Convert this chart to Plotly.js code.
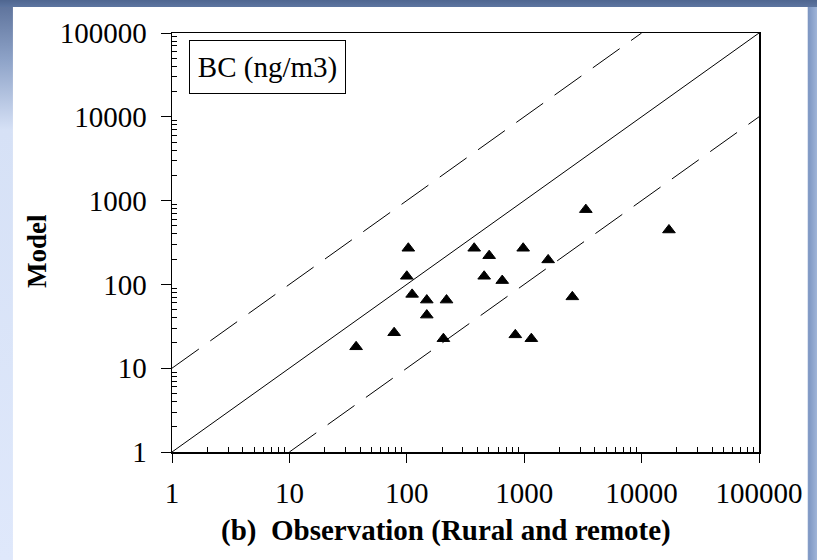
<!DOCTYPE html>
<html>
<head>
<meta charset="utf-8">
<script src="https://cdn.plot.ly/plotly-3.0.1.min.js"></script>
<style>
  html, body { margin: 0; padding: 0; }
  body {
    width: 817px; height: 560px; overflow: hidden;
    background:
      linear-gradient(to bottom, #4f6690 0px, #5d75a0 7px, rgba(0,0,0,0) 7px),
      linear-gradient(to right, rgba(0,0,0,0) 800px, #7f98c4 809px, #9fb4d8 817px),
      linear-gradient(to bottom, #5a6f98 0px, #8ea3c8 60px, #d6e1f6 130px, #dfe8fb 560px);
  }
  #chart { width: 817px; height: 560px; }
</style>
</head>
<body>
<div id="chart"></div>
<script>
// Black carbon: observed vs modelled concentrations at rural and remote sites (ng/m3)
const observed = [37, 78, 103, 100, 111, 148, 218, 148, 205, 375, 503, 980, 456, 650, 840, 1150, 1600, 2570, 3350, 17100];
const modelled = [18, 26.5, 270, 125, 76, 65, 65, 43, 22.5, 270, 220, 270, 125, 111, 25, 22.5, 196, 71, 780, 446];

// Reference lines: 1:1 and a factor of 10 either side
const oneToOneX = [1, 100000];
const oneToOneY = [1, 100000];
const factorAboveX = [1, 10000];
const factorAboveY = [10, 100000];
const factorBelowX = [10, 100000];
const factorBelowY = [1, 10000];

const decadeTicks = [1, 10, 100, 1000, 10000, 100000];
const decadeLabels = ['1', '10', '100', '1000', '10000', '100000'];

const minorTicks = [];
for (let d = 1; d < 100000; d *= 10) {
  for (let k = 2; k <= 9; k++) minorTicks.push(k * d);
}

const serif = 'Liberation Serif, Times New Roman, serif';

const traces = [
  { x: oneToOneX, y: oneToOneY, mode: 'lines', line: { color: '#000', width: 1 }, hoverinfo: 'skip' },
  { x: factorAboveX, y: factorAboveY, mode: 'lines', line: { color: '#000', width: 1, dash: '33px,14px' }, hoverinfo: 'skip' },
  { x: factorBelowX, y: factorBelowY, mode: 'lines', line: { color: '#000', width: 1, dash: '33px,14px' }, hoverinfo: 'skip' },
  { x: observed, y: modelled, mode: 'markers',
    marker: { symbol: 'triangle-up', size: 11, color: '#000', line: { color: '#000', width: 1 } } }
];

const baseAxis = {
  type: 'log',
  range: [0, 5],
  showgrid: false,
  zeroline: false,
  tickvals: decadeTicks,
  ticktext: decadeLabels,
  tickcolor: '#000',
  tickwidth: 1,
  tickfont: { family: serif, size: 29, color: '#000' },
  minor: { tickvals: minorTicks, ticks: 'inside', ticklen: 5, tickcolor: '#000', tickwidth: 1 }
};

const layout = {
  width: 817,
  height: 560,
  margin: { l: 172, r: 58, t: 33, b: 108 },
  paper_bgcolor: 'rgba(0,0,0,0)',
  plot_bgcolor: '#fff',
  showlegend: false,
  xaxis: Object.assign({}, baseAxis, {
    showline: true, linecolor: '#000', linewidth: 1.5, mirror: true,
    ticks: 'outside', ticklen: 9, ticklabelstandoff: 6
  }),
  yaxis: Object.assign({}, baseAxis, {
    showline: true, linecolor: '#000', linewidth: 1.5, mirror: true,
    ticks: 'outside', ticklen: 10, ticklabelstandoff: 8
  }),
  // inward half of the y-axis decade ticks
  yaxis2: {
    type: 'log', range: [0, 5], overlaying: 'y', anchor: 'x', side: 'left',
    showgrid: false, zeroline: false, showline: false, showticklabels: false,
    tickvals: decadeTicks, ticks: 'inside', ticklen: 10, tickcolor: '#000', tickwidth: 1
  },
  shapes: [
    { type: 'rect', xref: 'paper', yref: 'paper', x0: -0.271, x1: 1.083, y0: -0.26, y1: 1.062,
      fillcolor: '#fff', line: { width: 0 }, layer: 'below' }
  ],
  annotations: [
    { xref: 'paper', yref: 'paper', x: 0.029, y: 0.983, xanchor: 'left', yanchor: 'top',
      text: 'BC (ng/m3)', showarrow: false, width: 155, height: 52,
      bordercolor: '#000', borderwidth: 1, borderpad: 0, bgcolor: '#fff',
      font: { family: serif, size: 29, color: '#000' } },
    { xref: 'paper', yref: 'paper', x: (446 - 172) / 587, y: (452 - 530) / 419,
      xanchor: 'center', yanchor: 'middle', showarrow: false,
      text: '<b>(b)\u00a0 Observation (Rural and remote)</b>',
      font: { family: serif, size: 29, color: '#000' } },
    { xref: 'paper', yref: 'paper', x: (37 - 172) / 587, y: (452 - 251) / 419,
      xanchor: 'center', yanchor: 'middle', showarrow: false, textangle: -90,
      text: '<b>Model</b>',
      font: { family: serif, size: 27, color: '#000' } }
  ]
};

Plotly.newPlot('chart', traces, layout, { displayModeBar: false, staticPlot: true });
</script>
</body>
</html>
